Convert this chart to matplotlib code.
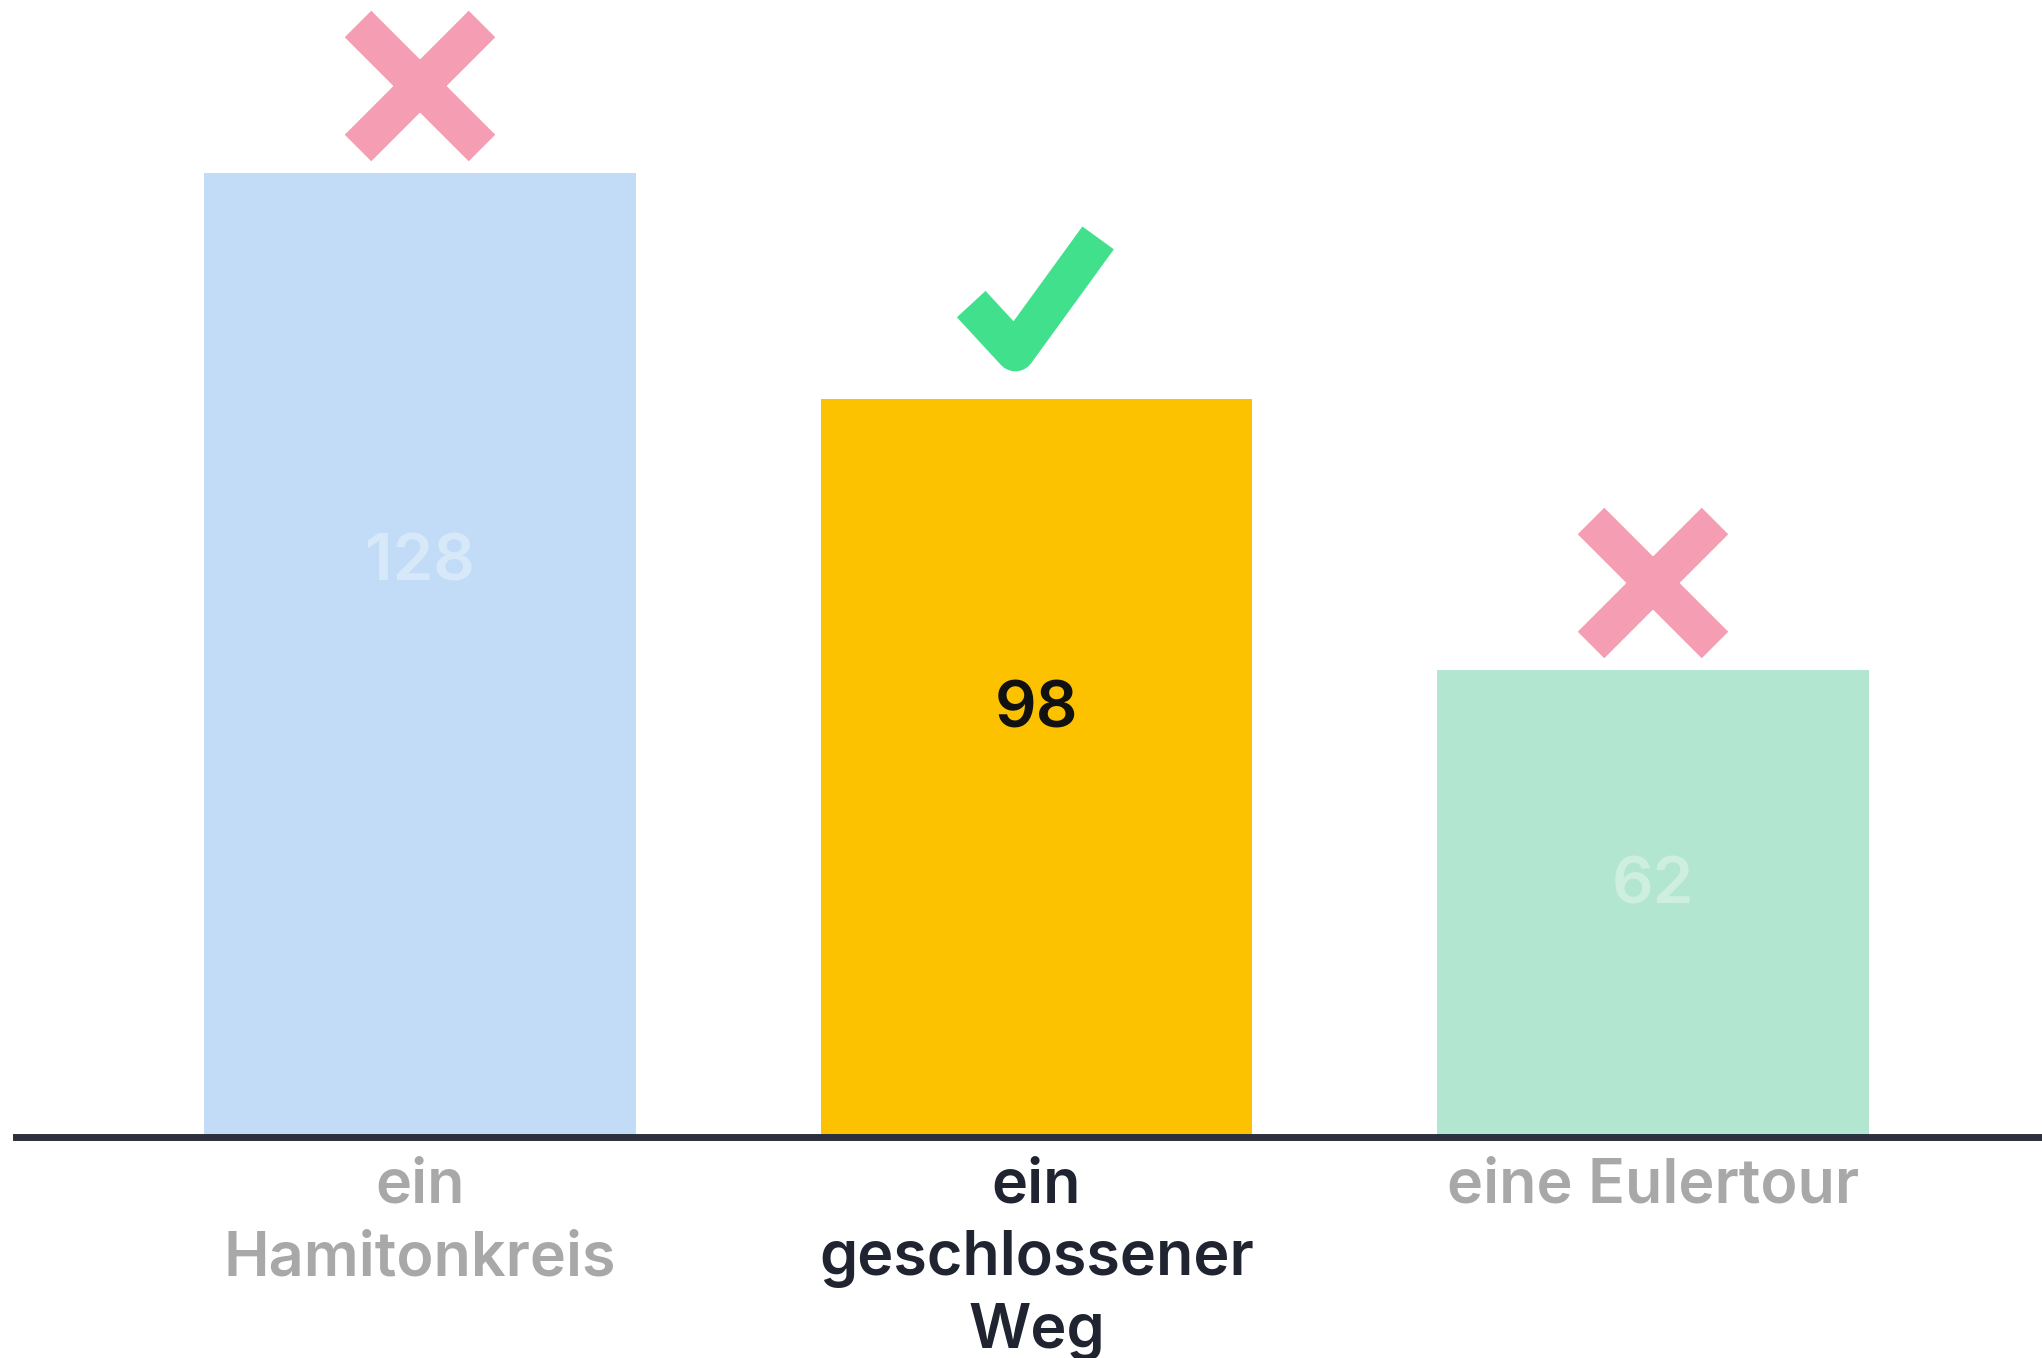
import matplotlib.pyplot as plt
from matplotlib.path import Path
from matplotlib.markers import MarkerStyle

# Data
categories = ["ein\nHamitonkreis", "ein\ngeschlossener\nWeg", "eine Eulertour"]
values = [128, 98, 62]
correct = [False, True, False]

barColors = ["#c2dcf7", "#fcc200", "#b3e6d0"]
labelColors = ["#a8a8a8", "#1f2430", "#a8a8a8"]

plt.rcParams['font.family'] = ['Inter', 'DejaVu Sans']

fig = plt.figure(figsize=(20.42, 13.58), dpi=100)
ax = fig.add_axes([16 / 2042, (1358 - 1137) / 1358, (2042 - 16) / 2042, 1137 / 1358])

x = list(range(len(values)))
ax.bar(x, values, width=0.70, color=barColors, zorder=1)

# Value labels inside the bars
for i, v in enumerate(values):
    if correct[i]:
        ax.text(i, v * 0.65 - 7, str(v), ha="center", va="center",
                fontsize=47, fontweight="semibold", color="#111111")
    else:
        ax.text(i, v * 0.65 - 7, str(v), ha="center", va="center",
                fontsize=47, fontweight="semibold", color="white", alpha=0.35)

# Check mark / cross above each bar
checkMarker = MarkerStyle(Path([(-71, -5), (-23, -57), (67, 67)]),
                          joinstyle="miter", capstyle="butt")
crossMarker = MarkerStyle("x", capstyle="butt")
for i, v in enumerate(values):
    if correct[i]:
        ax.plot(i, v + 13.3, marker=checkMarker, markersize=94, markerfacecolor="none",
                markeredgecolor="#40e08c", markeredgewidth=28, linestyle="none",
                clip_on=False)
    else:
        ax.plot(i, v + 11.6, marker=crossMarker, markersize=89, markeredgecolor="#f59db2",
                markeredgewidth=27, linestyle="none", clip_on=False)

ax.set_xlim(-0.655, 2.631)
ax.set_ylim(0, 151)

ax.set_xticks(x)
ax.set_xticklabels(categories, fontsize=44, fontweight="semibold", linespacing=1.32)
for tick, c in zip(ax.get_xticklabels(), labelColors):
    tick.set_color(c)
ax.tick_params(axis="x", length=0, pad=15)
ax.set_yticks([])

for side in ["left", "top", "right"]:
    ax.spines[side].set_visible(False)
ax.spines["bottom"].set_color("#2b303b")
ax.spines["bottom"].set_linewidth(5)

fig.savefig("out.png", dpi=100)
